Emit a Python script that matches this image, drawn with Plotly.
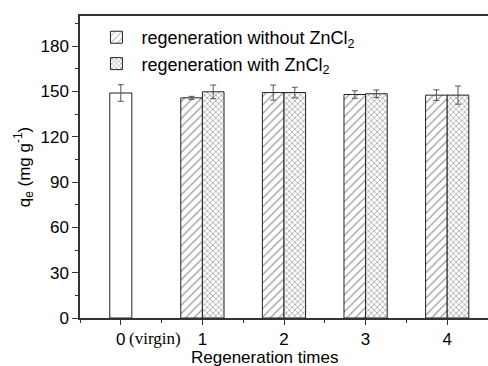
import plotly.graph_objects as go

virgin_x = [0]
virgin_q = [149]
virgin_err = [5.5]

regen_x = [1, 2, 3, 4]
without_q = [145.8, 149.3, 148.0, 147.6]
without_err = [1.0, 5.0, 2.5, 3.5]
with_q = [149.8, 149.3, 148.5, 147.6]
with_err = [4.5, 3.5, 2.5, 6.0]

tick_vals = [0, 1, 2, 3, 4]
tick_text = ["0", "1", "2", "3", "4"]

font_main = "Liberation Sans, Arial, sans-serif"
line_col = "#222222"
err_style = dict(type="data", visible=True, color="#555555", thickness=1, width=3)

fig = go.Figure()
fig.add_trace(go.Bar(
    x=virgin_x, y=virgin_q, width=0.27, offset=-0.135,
    error_y=dict(array=virgin_err, **err_style),
    marker=dict(color="white", line=dict(color=line_col, width=1)),
    showlegend=False, name="virgin"))
fig.add_trace(go.Bar(
    x=regen_x, y=without_q, width=0.265, offset=-0.265,
    error_y=dict(array=without_err, **err_style),
    marker=dict(color="white", line=dict(color=line_col, width=1),
                pattern=dict(shape="/", fgcolor="#333333", bgcolor="white", size=6, solidity=0.2)),
    name="regeneration without ZnCl<sub>2</sub>"))
fig.add_trace(go.Bar(
    x=regen_x, y=with_q, width=0.265, offset=0,
    error_y=dict(array=with_err, **err_style),
    marker=dict(color="white", line=dict(color=line_col, width=1),
                pattern=dict(shape="x", fgcolor="#222222", bgcolor="white", size=4, solidity=0.3)),
    name="regeneration with ZnCl<sub>2</sub>"))

fig.add_annotation(x=0.07, xref="x", y=-0.03, yref="paper", yanchor="top", xanchor="left",
                   text="(virgin)", showarrow=False,
                   font=dict(family="Liberation Serif, Times New Roman, serif", size=17, color="black"))
fig.add_annotation(x=0.453, xref="paper", y=-0.092, yref="paper", yanchor="top", xanchor="center",
                   text="Regeneration times", showarrow=False,
                   font=dict(family=font_main, size=17, color="black"))

fig.update_layout(
    width=488, height=366,
    margin=dict(l=80, r=0, t=16, b=48),
    paper_bgcolor="white", plot_bgcolor="white",
    barmode="overlay",
    font=dict(family=font_main, size=16, color="black"),
    legend=dict(x=0.028, y=0.99, xanchor="left", yanchor="top",
                bgcolor="rgba(0,0,0,0)", font=dict(size=18), itemwidth=40,
                tracegroupgap=0),
    xaxis=dict(range=[-0.5, 4.5], tickmode="array", tickvals=tick_vals, ticktext=tick_text,
               showline=True, linecolor="#333333", linewidth=1.5, mirror=True,
               ticks="outside", ticklen=5, tickcolor="#333333",
               minor=dict(tickmode="array", tickvals=[-0.5, 0.5, 1.5, 2.5, 3.5], ticks="outside",
                          ticklen=3, tickcolor="#333333"),
               showgrid=False, zeroline=False,
               tickfont=dict(size=17)),
    yaxis=dict(range=[0, 200], tickvals=[0, 30, 60, 90, 120, 150, 180],
               showline=True, linecolor="#333333", linewidth=1.5,
               ticks="outside", ticklen=6, tickcolor="#333333",
               minor=dict(dtick=15, ticks="outside", ticklen=3, tickcolor="#333333"),
               showgrid=False, zeroline=False,
               title=dict(text="q<sub>e</sub> (mg g<sup>-1</sup>)", standoff=6, font=dict(size=17)),
               tickfont=dict(size=17)),
)

fig.write_html("out.html")
